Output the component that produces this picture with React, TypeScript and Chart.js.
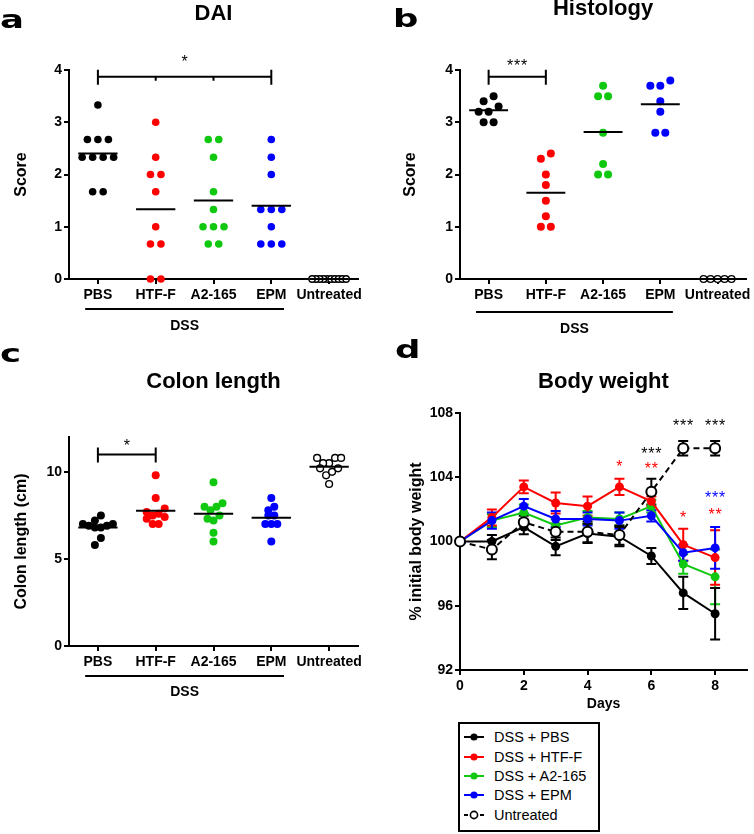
import React, { useEffect, useRef } from 'react';
import { Chart, registerables } from 'chart.js';

Chart.register(...registerables);

const SANS = 'Arial, "Liberation Sans", Helvetica, sans-serif';
const LETTER_FONT = '"DejaVu Sans", Verdana, sans-serif';
const BLACK = '#000000';
const RED = '#ff0000';
const GREEN = '#10c810';
const BLUE = '#0000ff';

// ---------- categories ----------
const GROUPS = ['PBS', 'HTF-F', 'A2-165', 'EPM', 'Untreated'];
const GROUP_COLORS = [BLACK, RED, GREEN, BLUE, BLACK];
const GROUP_OPEN = [false, false, false, false, true];
const DSS_LABEL = 'DSS';

// ---------- a: DAI ----------
const DAI_PBS = [3.33, 2.67, 2.67, 2.67, 2.33, 2.33, 2.33, 2.33, 1.67, 1.67];
const DAI_HTFF = [3.0, 2.33, 2.0, 2.0, 1.67, 1.0, 0.67, 0.67, 0, 0];
const DAI_A2 = [2.67, 2.67, 2.33, 1.67, 1.33, 1.0, 1.0, 1.0, 0.67, 0.67];
const DAI_EPM = [2.67, 2.33, 2.0, 1.33, 1.33, 1.33, 1.0, 0.67, 0.67, 0.67];
const DAI_UNTREATED = [0, 0, 0, 0, 0, 0, 0, 0, 0, 0];
const DAI_TICKS = [0, 1, 2, 3, 4];

// ---------- b: Histology ----------
const HIST_PBS = [3.5, 3.4, 3.3, 3.2, 3.2, 3.0, 3.0];
const HIST_HTFF = [2.4, 2.3, 2.0, 1.8, 1.5, 1.2, 1.0, 1.0];
const HIST_A2 = [3.7, 3.5, 3.5, 2.8, 2.2, 2.0, 2.0];
const HIST_EPM = [3.8, 3.7, 3.7, 3.4, 3.2, 2.8, 2.8];
const HIST_UNTREATED = [0, 0, 0, 0, 0];
const HIST_TICKS = [0, 1, 2, 3, 4];

// ---------- c: Colon length ----------
const COLON_PBS = [7.5, 7.2, 7.0, 7.0, 6.9, 6.9, 6.8, 6.8, 6.2, 5.8];
const COLON_HTFF = [9.8, 8.5, 7.9, 7.7, 7.6, 7.5, 7.4, 7.3, 7.0, 7.0];
const COLON_A2 = [9.4, 8.2, 8.0, 8.0, 7.8, 7.5, 7.3, 7.2, 6.5, 6.0];
const COLON_EPM = [8.5, 8.0, 7.8, 7.5, 7.5, 7.0, 7.0, 7.0, 6.0];
const COLON_UNTREATED = [10.8, 10.8, 10.8, 10.5, 10.5, 10.2, 10.2, 10.0, 9.8, 9.3];
const COLON_TICKS = [0, 5, 10];

// ---------- d: Body weight ----------
const DAYS = [0, 1, 2, 3, 4, 5, 6, 7, 8];
const DAY_TICKS = [0, 2, 4, 6, 8];
const WEIGHT_TICKS = [92, 96, 100, 104, 108];
const BW_PBS = [100, 100.0, 100.9, 99.7, 100.5, 100.3, 99.1, 96.8, 95.5];
const BW_PBS_SEM = [0, 0.4, 0.45, 0.55, 0.6, 0.6, 0.5, 1.0, 1.6];
const BW_HTFF = [100, 101.5, 103.4, 102.4, 102.2, 103.4, 102.5, 99.8, 99.0];
const BW_HTFF_SEM = [0, 0.5, 0.4, 0.65, 0.6, 0.5, 0.3, 1.0, 1.7];
const BW_A2 = [100, 101.3, 101.8, 101.0, 101.5, 101.4, 102.2, 98.6, 97.8];
const BW_A2_SEM = [0, 0.4, 0.5, 0.4, 0.4, 0.4, 0.4, 0.6, 1.7];
const BW_EPM = [100, 101.3, 102.2, 101.4, 101.4, 101.3, 101.6, 99.3, 99.6];
const BW_EPM_SEM = [0, 0.5, 0.45, 0.5, 0.4, 0.5, 0.35, 0.5, 1.3];
const BW_UNTREATED = [100, 99.5, 101.2, 100.6, 100.6, 100.4, 103.1, 105.8, 105.8];
const BW_UNTREATED_SEM = [0, 0.6, 0.4, 0.5, 0.65, 0.6, 0.8, 0.45, 0.45];
const WEIGHT_LABELS = ['DSS + PBS', 'DSS + HTF-F', 'DSS + A2-165', 'DSS + EPM', 'Untreated'];
const WEIGHT_COLORS = [BLACK, RED, GREEN, BLUE, BLACK];
const WEIGHT_ORDER = [1, 3, 4, 2, 0];

const SIG_DAYS = [7, 8, 6, 6, 5, 8, 8, 7];
const SIG_VALUES = [107.5, 107.5, 105.7, 104.8, 104.9, 103.0, 101.9, 101.75];
const SIG_TEXT = ['***', '***', '***', '**', '*', '***', '**', '*'];
const SIG_COLORS = [BLACK, BLACK, BLACK, RED, RED, BLUE, RED, RED];

// ---------- helpers ----------
type Dot = { r: number; spacing: number; maxWidth: number };
type Area = { left: number; top: number; right: number; bottom: number };
type Bracket = { from: number; to: number; value: number; text: string; rise: number };
type DotSpec = {
  letter: string; letterX: number; letterY: number;
  title: string; titleY: number;
  yTitle: string; yTitleX: number;
  groups: number[][];
  yMin: number; yMax: number; yTicks: number[];
  bracket: Bracket;
  w: number; h: number; area: Area;
  dssLineY: number; dssLabelY: number;
  dot: Dot;
};

function swarm(values: number[], gi: number, pxPerUnitY: number, pxPerCat: number, dot: Dot) {
  const tol = (2 * dot.r) / pxPerUnitY;
  const sorted = [...values].sort((a, b) => b - a);
  const rows: number[][] = [];
  let cur: number[] = [];
  for (const v of sorted) {
    if (cur.length && cur[0] - v > tol + 1e-9) { rows.push(cur); cur = []; }
    cur.push(v);
  }
  if (cur.length) rows.push(cur);
  const pts: { x: number; y: number }[] = [];
  for (const row of rows) {
    const n = row.length;
    const sp = n > 1 ? Math.min(dot.spacing, dot.maxWidth / (n - 1)) : 0;
    const slots = Array.from({ length: n }, (_, k) => k - (n - 1) / 2)
      .sort((a, b) => Math.abs(a) - Math.abs(b) || a - b);
    const asc = [...row].sort((a, b) => a - b);
    asc.forEach((v, k) => pts.push({ x: gi + (slots[k] * sp) / pxPerCat, y: v }));
  }
  return pts;
}

function drawLetter(ctx: CanvasRenderingContext2D, letter: string, x: number, y: number) {
  ctx.save();
  ctx.translate(x, y);
  ctx.scale(1.42, 1);
  ctx.fillStyle = BLACK;
  ctx.font = `bold 25px ${LETTER_FONT}`;
  ctx.textAlign = 'left';
  ctx.textBaseline = 'alphabetic';
  ctx.fillText(letter, 0, 0);
  ctx.restore();
}

function drawStars(ctx: CanvasRenderingContext2D, text: string, cx: number, cy: number, color: string) {
  ctx.save();
  ctx.fillStyle = color;
  ctx.font = `16px ${SANS}`;
  ctx.textAlign = 'center';
  ctx.textBaseline = 'alphabetic';
  const n = text.length;
  const step = 7;
  for (let i = 0; i < n; i++) {
    ctx.fillText('*', cx + (i - (n - 1) / 2) * step, cy + 9.5);
  }
  ctx.restore();
}

function axisStyle() {
  return {
    grid: { display: true, drawOnChartArea: false, drawTicks: true, tickLength: 5, color: BLACK, lineWidth: 2 },
    border: { display: true, color: BLACK, width: 2 },
  };
}

const TICK_FONT = { family: SANS, size: 14, weight: 'bold' as const };
const AXIS_TITLE_FONT = { family: SANS, size: 16, weight: 'bold' as const };
const TITLE_FONT = { family: SANS, size: 22, weight: 'bold' as const };

function makeDotChart(canvas: HTMLCanvasElement, s: DotSpec) {
  const pxY = (s.area.bottom - s.area.top) / (s.yMax - s.yMin);
  const pxX = (s.area.right - s.area.left) / GROUPS.length;
  const datasets = s.groups.map((vals, gi) => ({
    label: GROUPS[gi],
    data: swarm(vals, gi, pxY, pxX, s.dot),
    backgroundColor: GROUP_OPEN[gi] ? '#ffffff' : GROUP_COLORS[gi],
    borderColor: GROUP_COLORS[gi],
    pointBackgroundColor: GROUP_OPEN[gi] ? '#ffffff' : GROUP_COLORS[gi],
    pointBorderColor: GROUP_COLORS[gi],
    pointRadius: GROUP_OPEN[gi] ? s.dot.r - 0.6 : s.dot.r,
    pointBorderWidth: GROUP_OPEN[gi] ? 1.4 : 0,
    borderWidth: GROUP_OPEN[gi] ? 1.4 : 0,
    clip: false as const,
  }));
  const titleHalf = TITLE_FONT.size * 1.2 / 2;
  const extras = {
    id: 'dotExtras',
    afterDatasetsDraw(chart: any) {
      const { ctx } = chart;
      const x = chart.scales.x;
      const y = chart.scales.y;
      ctx.save();
      ctx.strokeStyle = BLACK;
      ctx.lineWidth = 2;
      s.groups.forEach((vals, gi) => {
        const m = vals.reduce((a, b) => a + b, 0) / vals.length;
        const py = y.getPixelForValue(m);
        ctx.beginPath();
        ctx.moveTo(x.getPixelForValue(gi - 0.34), py);
        ctx.lineTo(x.getPixelForValue(gi + 0.34), py);
        ctx.stroke();
      });
      // significance bracket
      const b = s.bracket;
      const by = y.getPixelForValue(b.value);
      const x1 = x.getPixelForValue(b.from);
      const x2 = x.getPixelForValue(b.to);
      ctx.beginPath();
      ctx.moveTo(x1, by); ctx.lineTo(x2, by);
      ctx.moveTo(x1, by - 7); ctx.lineTo(x1, by + 8);
      ctx.moveTo(x2, by - 7); ctx.lineTo(x2, by + 8);
      for (let g = b.from + 1; g < b.to; g++) {
        const gx = x.getPixelForValue(g);
        ctx.moveTo(gx, by); ctx.lineTo(gx, by + 4);
      }
      ctx.stroke();
      ctx.restore();
      drawStars(ctx, b.text, (x1 + x2) / 2, by - b.rise, BLACK);
    },
    afterDraw(chart: any) {
      const { ctx } = chart;
      const x = chart.scales.x;
      drawLetter(ctx, s.letter, s.letterX, s.letterY);
      ctx.save();
      ctx.strokeStyle = BLACK;
      ctx.lineWidth = 2;
      const lx1 = x.getPixelForValue(-0.22);
      const lx2 = x.getPixelForValue(3.22);
      ctx.beginPath();
      ctx.moveTo(lx1, s.dssLineY);
      ctx.lineTo(lx2, s.dssLineY);
      ctx.stroke();
      ctx.fillStyle = BLACK;
      ctx.font = `bold 14px ${SANS}`;
      ctx.textAlign = 'center';
      ctx.textBaseline = 'middle';
      ctx.fillText(DSS_LABEL, (lx1 + lx2) / 2, s.dssLabelY);
      ctx.restore();
    },
  };
  const ax = axisStyle();
  return new Chart(canvas, {
    type: 'scatter',
    data: { datasets },
    options: {
      animation: false,
      responsive: false,
      events: [],
      layout: { padding: { left: 0, top: 0, right: s.w - s.area.right, bottom: 0 } },
      plugins: {
        legend: { display: false },
        tooltip: { enabled: false },
        title: {
          display: true,
          text: s.title,
          color: BLACK,
          font: TITLE_FONT,
          fullSize: false,
          padding: { top: s.titleY - titleHalf, bottom: s.area.top - (s.titleY - titleHalf) - 2 * titleHalf },
        },
      },
      scales: {
        x: {
          type: 'linear',
          min: -0.5,
          max: GROUPS.length - 0.5,
          afterBuildTicks: (sc: any) => { sc.ticks = GROUPS.map((_, i) => ({ value: i })); },
          afterFit: (sc: any) => { sc.height = s.h - s.area.bottom; },
          ticks: {
            autoSkip: false, maxRotation: 0, minRotation: 0, padding: 3, color: BLACK, font: TICK_FONT,
            callback: (v: any) => GROUPS[Math.round(Number(v))] ?? '',
          },
          ...ax,
        },
        y: {
          type: 'linear',
          min: s.yMin,
          max: s.yMax,
          afterBuildTicks: (sc: any) => { sc.ticks = s.yTicks.map((v) => ({ value: v })); },
          afterFit: (sc: any) => { sc.width = s.area.left; },
          ticks: { padding: 2, color: BLACK, font: TICK_FONT },
          title: {
            display: true, text: s.yTitle, color: BLACK, font: AXIS_TITLE_FONT,
            padding: { top: s.yTitleX - AXIS_TITLE_FONT.size * 0.6, bottom: 0 },
          },
          ...ax,
        },
      },
    } as any,
    plugins: [extras],
  });
}

const DAI_SPEC: DotSpec = {
  letter: 'a', letterX: 0, letterY: 28,
  title: 'DAI', titleY: 13.5,
  yTitle: 'Score', yTitleX: 22,
  groups: [DAI_PBS, DAI_HTFF, DAI_A2, DAI_EPM, DAI_UNTREATED],
  yMin: 0, yMax: 4, yTicks: DAI_TICKS,
  bracket: { from: 0, to: 3, value: 3.87, text: '*', rise: 19 },
  w: 377, h: 340, area: { left: 69, top: 70, right: 358, bottom: 279 },
  dssLineY: 309, dssLabelY: 326,
  dot: { r: 3.8, spacing: 10.5, maxWidth: 34 },
};

const HIST_SPEC: DotSpec = {
  letter: 'b', letterX: 16, letterY: 27,
  title: 'Histology', titleY: 9,
  yTitle: 'Score', yTitleX: 33.5,
  groups: [HIST_PBS, HIST_HTFF, HIST_A2, HIST_EPM, HIST_UNTREATED],
  yMin: 0, yMax: 4, yTicks: HIST_TICKS,
  bracket: { from: 0, to: 1, value: 3.87, text: '***', rise: 15 },
  w: 377, h: 340, area: { left: 83, top: 70, right: 370, bottom: 279 },
  dssLineY: 312, dssLabelY: 329,
  dot: { r: 4, spacing: 10, maxWidth: 28 },
};

const COLON_SPEC: DotSpec = {
  letter: 'c', letterX: 0, letterY: 32,
  title: 'Colon length', titleY: 52,
  yTitle: 'Colon length (cm)', yTitleX: 21.5,
  groups: [COLON_PBS, COLON_HTFF, COLON_A2, COLON_EPM, COLON_UNTREATED],
  yMin: 0, yMax: 12, yTicks: COLON_TICKS,
  bracket: { from: 0, to: 1, value: 11.0, text: '*', rise: 13 },
  w: 377, h: 384, area: { left: 69, top: 107, right: 358, bottom: 316 },
  dssLineY: 346, dssLabelY: 362,
  dot: { r: 4, spacing: 6, maxWidth: 32 },
};

const WEIGHT_MEANS = [BW_PBS, BW_HTFF, BW_A2, BW_EPM, BW_UNTREATED];
const WEIGHT_SEMS = [BW_PBS_SEM, BW_HTFF_SEM, BW_A2_SEM, BW_EPM_SEM, BW_UNTREATED_SEM];

function makeWeightChart(canvas: HTMLCanvasElement) {
  const W = 377, H = 390;
  const area = { left: 83, top: 83, right: 373, bottom: 340 };
  const titleY = 52;
  const titleHalf = TITLE_FONT.size * 1.2 / 2;
  const datasets = WEIGHT_LABELS.map((label, i) => {
    const open = i === 4;
    const color = WEIGHT_COLORS[i];
    return {
      label,
      data: DAYS.map((d, k) => ({ x: d, y: WEIGHT_MEANS[i][k] })),
      errors: WEIGHT_SEMS[i],
      borderColor: color,
      backgroundColor: open ? '#ffffff' : color,
      pointBackgroundColor: open ? '#ffffff' : color,
      pointBorderColor: color,
      pointRadius: open ? 5 : 4.5,
      pointBorderWidth: open ? 2 : 0,
      borderWidth: 2,
      borderDash: open ? [6, 4] : [],
      tension: 0,
      order: WEIGHT_ORDER[i],
      clip: false as const,
    };
  });
  const extras = {
    id: 'weightExtras',
    beforeDatasetsDraw(chart: any) {
      const { ctx } = chart;
      const x = chart.scales.x;
      const y = chart.scales.y;
      ctx.save();
      ctx.lineWidth = 2;
      const idx = chart.data.datasets.map((_: any, i: number) => i)
        .sort((a: number, b: number) => WEIGHT_ORDER[b] - WEIGHT_ORDER[a]);
      for (const i of idx) {
        const ds = chart.data.datasets[i];
        ctx.strokeStyle = ds.borderColor;
        ds.data.forEach((p: any, k: number) => {
          const e = ds.errors[k];
          if (!e) return;
          const px = x.getPixelForValue(p.x);
          const yt = y.getPixelForValue(p.y + e);
          const yb = y.getPixelForValue(p.y - e);
          ctx.beginPath();
          ctx.moveTo(px, yt); ctx.lineTo(px, yb);
          ctx.moveTo(px - 5, yt); ctx.lineTo(px + 5, yt);
          ctx.moveTo(px - 5, yb); ctx.lineTo(px + 5, yb);
          ctx.stroke();
        });
      }
      ctx.restore();
    },
    afterDatasetsDraw(chart: any) {
      const { ctx } = chart;
      const x = chart.scales.x;
      const y = chart.scales.y;
      SIG_TEXT.forEach((t, i) => {
        drawStars(ctx, t, x.getPixelForValue(SIG_DAYS[i]), y.getPixelForValue(SIG_VALUES[i]), SIG_COLORS[i]);
      });
    },
    afterDraw(chart: any) {
      drawLetter(chart.ctx, 'd', 18, 28);
    },
  };
  const ax = axisStyle();
  return new Chart(canvas, {
    type: 'line',
    data: { datasets },
    options: {
      animation: false,
      responsive: false,
      events: [],
      layout: { padding: { left: 0, top: 0, right: W - area.right, bottom: 0 } },
      plugins: {
        legend: { display: false },
        tooltip: { enabled: false },
        title: {
          display: true,
          text: 'Body weight',
          color: BLACK,
          font: TITLE_FONT,
          fullSize: false,
          padding: { top: titleY - titleHalf, bottom: area.top - (titleY - titleHalf) - 2 * titleHalf },
        },
      },
      scales: {
        x: {
          type: 'linear',
          min: 0,
          max: 9,
          afterBuildTicks: (sc: any) => { sc.ticks = DAY_TICKS.map((v) => ({ value: v })); },
          afterFit: (sc: any) => { sc.height = H - area.bottom; },
          ticks: { autoSkip: false, maxRotation: 0, padding: 3, color: BLACK, font: TICK_FONT },
          title: {
            display: true, text: 'Days', color: BLACK, font: { family: SANS, size: 14, weight: 'bold' },
            padding: { top: 0, bottom: 16 - 8.4 },
          },
          ...ax,
        },
        y: {
          type: 'linear',
          min: 92,
          max: 108,
          afterBuildTicks: (sc: any) => { sc.ticks = WEIGHT_TICKS.map((v) => ({ value: v })); },
          afterFit: (sc: any) => { sc.width = area.left; },
          ticks: { padding: 2, color: BLACK, font: TICK_FONT },
          title: {
            display: true, text: '% initial body weight', color: BLACK, font: AXIS_TITLE_FONT,
            padding: { top: 40 - AXIS_TITLE_FONT.size * 0.6, bottom: 0 },
          },
          ...ax,
        },
      },
    } as any,
    plugins: [extras],
  });
}

function ChartBox(props: { make: (c: HTMLCanvasElement) => Chart; left: number; top: number; width: number; height: number }) {
  const ref = useRef<HTMLCanvasElement>(null);
  useEffect(() => {
    const chart = props.make(ref.current as HTMLCanvasElement);
    return () => chart.destroy();
  }, []);
  return (
    <canvas
      ref={ref}
      width={props.width}
      height={props.height}
      style={{ position: 'absolute', left: props.left, top: props.top, width: props.width, height: props.height }}
    />
  );
}

function LegendSymbol({ color, open }: { color: string; open: boolean }) {
  return (
    <svg width={20} height={12} style={{ display: 'block' }}>
      {open ? (
        <>
          <line x1={0} y1={6} x2={4} y2={6} stroke={color} strokeWidth={2} />
          <circle cx={10} cy={6} r={3.6} fill="#fff" stroke={color} strokeWidth={1.6} />
          <line x1={16} y1={6} x2={20} y2={6} stroke={color} strokeWidth={2} />
        </>
      ) : (
        <>
          <line x1={0} y1={6} x2={20} y2={6} stroke={color} strokeWidth={2} />
          <circle cx={10} cy={6} r={3.6} fill={color} />
        </>
      )}
    </svg>
  );
}

function WeightLegend() {
  return (
    <div
      style={{
        position: 'absolute', left: 458, top: 722, width: 142, height: 110, boxSizing: 'border-box',
        border: '2px solid #000', paddingTop: 3.7, background: '#fff',
      }}
    >
      {WEIGHT_LABELS.map((label, i) => (
        <div key={label} style={{ display: 'flex', alignItems: 'center', height: 19.3, paddingLeft: 4 }}>
          <LegendSymbol color={WEIGHT_COLORS[i]} open={i === 4} />
          <span style={{ marginLeft: 10, font: `14.5px ${SANS}`, color: '#000', whiteSpace: 'nowrap' }}>{label}</span>
        </div>
      ))}
    </div>
  );
}

export default function App() {
  return (
    <div style={{ position: 'relative', width: 754, height: 834, background: '#fff', overflow: 'hidden' }}>
      <style>{'body{margin:0;background:#fff}'}</style>
      <ChartBox make={(c) => makeDotChart(c, DAI_SPEC)} left={0} top={0} width={377} height={340} />
      <ChartBox make={(c) => makeDotChart(c, HIST_SPEC)} left={377} top={0} width={377} height={340} />
      <ChartBox make={(c) => makeDotChart(c, COLON_SPEC)} left={0} top={330} width={377} height={384} />
      <ChartBox make={makeWeightChart} left={377} top={330} width={377} height={390} />
      <WeightLegend />
    </div>
  );
}
